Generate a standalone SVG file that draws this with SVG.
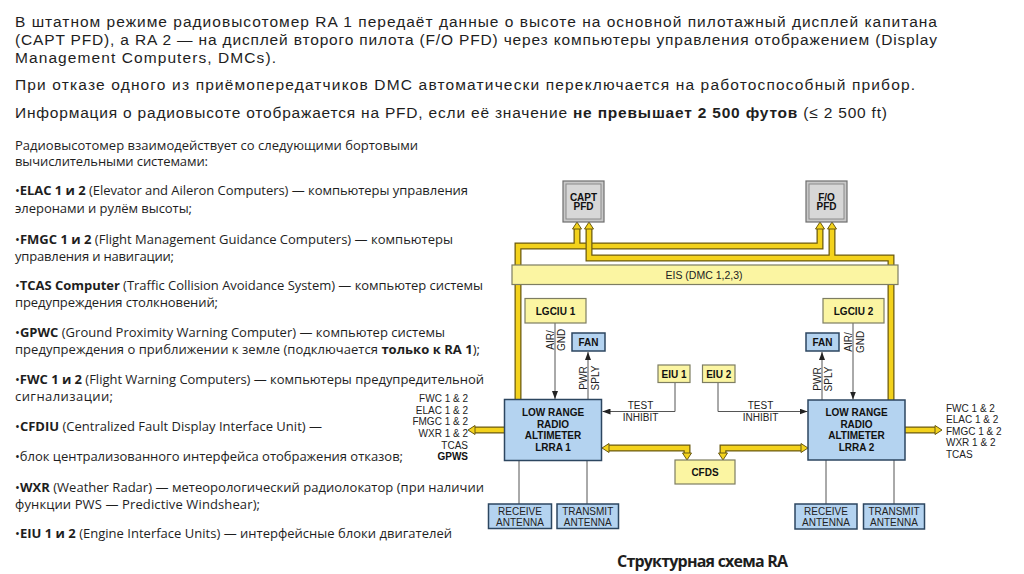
<svg xmlns="http://www.w3.org/2000/svg" width="1024" height="574" viewBox="0 0 1024 574">
<style>
.body{font-family:"Open Sans","Noto Sans","Liberation Sans",sans-serif;fill:#1e1e1e}
.top{font-family:"Liberation Sans",Arial,sans-serif;font-size:15.5px;fill:#1e1e1e}
.col{font-size:13px}
.b{font-weight:bold}
.d{font-family:"Liberation Sans",Arial,sans-serif;font-size:10px;fill:#222}
.db{font-family:"Liberation Sans",Arial,sans-serif;font-size:10px;font-weight:bold;fill:#111}
.bo{stroke:#6b5a10;stroke-width:7;fill:none}
.bi{stroke:#f3d21c;stroke-width:4.5;fill:none}
.ya{fill:#f3d21c;stroke:#6b5a10;stroke-width:1}
.ln{stroke:#555;stroke-width:1;fill:none}
.by{fill:#fbf5a2;stroke:#7d7d62;stroke-width:1.2}
.bb{fill:#b4d3f0;stroke:#2c4660;stroke-width:1.5}
</style>
<defs>
<marker id="ah" markerUnits="userSpaceOnUse" markerWidth="8" markerHeight="6" refX="8" refY="3" orient="auto">
<path d="M0,0 L8,3 L0,6 z" fill="#222"/>
</marker>
</defs>
<rect width="1024" height="574" fill="#ffffff"/>

<g id="text-top" class="top">
<text x="15" y="27" textLength="922">В штатном режиме радиовысотомер RA 1 передаёт данные о высоте на основной пилотажный дисплей капитана</text>
<text x="15" y="45" textLength="922">(CAPT PFD), а RA 2 — на дисплей второго пилота (F/O PFD) через компьютеры управления отображением (Display</text>
<text x="15" y="63" textLength="261">Management Computers, DMCs).</text>
<text x="15" y="90" textLength="900">При отказе одного из приёмопередатчиков DMC автоматически переключается на работоспособный прибор.</text>
<text x="15" y="118" textLength="872">Информация о радиовысоте отображается на PFD, если её значение <tspan class="b">не превышает 2 500 футов</tspan> (≤ 2 500 ft)</text>
</g>

<g id="text-list" class="body col">
<text x="15" y="150" textLength="403">Радиовысотомер взаимодействует со следующими бортовыми</text>
<text x="15" y="166" textLength="193">вычислительными системами:</text>
<text x="15" y="195" textLength="453">•<tspan class="b">ELAC 1 и 2</tspan> (Elevator and Aileron Computers) — компьютеры управления</text>
<text x="15" y="213" textLength="177">элеронами и рулём высоты;</text>
<text x="15" y="244" textLength="438">•<tspan class="b">FMGC 1 и 2</tspan> (Flight Management Guidance Computers) — компьютеры</text>
<text x="15" y="261" textLength="159">управления и навигации;</text>
<text x="15" y="290" textLength="468">•<tspan class="b">TCAS Computer</tspan> (Traffic Collision Avoidance System) — компьютер системы</text>
<text x="15" y="307" textLength="203">предупреждения столкновений;</text>
<text x="15" y="337" textLength="430">•<tspan class="b">GPWC</tspan> (Ground Proximity Warning Computer) — компьютер системы</text>
<text x="15" y="354" textLength="465">предупреждения о приближении к земле (подключается <tspan class="b">только к RA 1</tspan>);</text>
<text x="15" y="384" textLength="469">•<tspan class="b">FWC 1 и 2</tspan> (Flight Warning Computers) — компьютеры предупредительной</text>
<text x="15" y="401" textLength="98">сигнализации;</text>
<text x="15" y="431" textLength="307">•<tspan class="b">CFDIU</tspan> (Centralized Fault Display Interface Unit) —</text>
<text x="15" y="461" textLength="388">•блок централизованного интерфейса отображения отказов;</text>
<text x="15" y="492" textLength="469">•<tspan class="b">WXR</tspan> (Weather Radar) — метеорологический радиолокатор (при наличии</text>
<text x="15" y="509" textLength="245">функции PWS — Predictive Windshear);</text>
<text x="15" y="538" textLength="437">•<tspan class="b">EIU 1 и 2</tspan> (Engine Interface Units) — интерфейсные блоки двигателей</text>
</g>

<g id="connectors">
<path class="bo" d="M518,400 V246 H820 V228 M577,246 V228"/>
<path class="bi" d="M518,400 V246 H820 V228 M577,246 V228"/>
<polygon class="ya" points="572.5,229 577,222 581.5,229"/>
<polygon class="ya" points="815.5,229 820,222 824.5,229"/>
<path class="bo" d="M891,400 V258 H589 V228 M832,258 V228"/>
<path class="bi" d="M891,400 V258 H589 V228 M832,258 V228"/>
<polygon class="ya" points="584.5,229 589,222 593.5,229"/>
<polygon class="ya" points="827.5,229 832,222 836.5,229"/>
<path class="bo" d="M609,448 H687 V453 M801,448 H723 V453"/>
<path class="bi" d="M609,448 H687 V453 M801,448 H723 V453"/>
<polygon class="ya" points="602,448 609,443.5 609,452.5"/>
<polygon class="ya" points="682.5,453 687,460 691.5,453"/>
<polygon class="ya" points="808,448 801,443.5 801,452.5"/>
<polygon class="ya" points="718.5,453 723,460 727.5,453"/>
<path class="bo" d="M504,430 H475 M905,430 H935"/>
<path class="bi" d="M504,430 H475 M905,430 H935"/>
<polygon class="ya" points="468,430 475,425.5 475,434.5"/>
<polygon class="ya" points="942,430 935,425.5 935,434.5"/>
<path class="ln" d="M555,323 V399" marker-end="url(#ah)"/>
<path class="ln" d="M588,399 V352" marker-end="url(#ah)"/>
<path class="ln" d="M853,323 V399.5" marker-end="url(#ah)"/>
<path class="ln" d="M822,400 V352" marker-end="url(#ah)"/>
<path class="ln" d="M675,382 V411.5 H602.5" marker-end="url(#ah)"/>
<path class="ln" d="M718,382 V411.5 H807.5" marker-end="url(#ah)"/>
<path class="ln" d="M519,461 V504 M587,461 V504 M826,460 V504 M894,460 V504"/>
<text class="d" transform="translate(553.5,340) rotate(-90)" text-anchor="middle">AIR/</text>
<text class="d" transform="translate(565,340) rotate(-90)" text-anchor="middle">GND</text>
<text class="d" transform="translate(586.5,378) rotate(-90)" text-anchor="middle">PWR</text>
<text class="d" transform="translate(598.5,378) rotate(-90)" text-anchor="middle">SPLY</text>
<text class="d" transform="translate(820.5,379) rotate(-90)" text-anchor="middle">PWR</text>
<text class="d" transform="translate(832,379) rotate(-90)" text-anchor="middle">SPLY</text>
<text class="d" transform="translate(852,342) rotate(-90)" text-anchor="middle">AIR/</text>
<text class="d" transform="translate(863.5,342) rotate(-90)" text-anchor="middle">GND</text>
<text class="d" x="640.5" y="409" text-anchor="middle">TEST</text>
<text class="d" x="640.5" y="420.5" text-anchor="middle">INHIBIT</text>
<text class="d" x="760.5" y="409" text-anchor="middle">TEST</text>
<text class="d" x="760.5" y="420.5" text-anchor="middle">INHIBIT</text>
<g text-anchor="end">
<text class="d" x="468" y="402">FWC 1 &amp; 2</text>
<text class="d" x="468" y="413.5">ELAC 1 &amp; 2</text>
<text class="d" x="468" y="425">FMGC 1 &amp; 2</text>
<text class="d" x="468" y="436.5">WXR 1 &amp; 2</text>
<text class="d" x="468" y="448.5">TCAS</text>
<text class="db" x="468" y="460">GPWS</text>
</g>
<text class="d" x="946" y="412">FWC 1 &amp; 2</text>
<text class="d" x="946" y="423">ELAC 1 &amp; 2</text>
<text class="d" x="946" y="434.5">FMGC 1 &amp; 2</text>
<text class="d" x="946" y="446">WXR 1 &amp; 2</text>
<text class="d" x="946" y="457.5">TCAS</text>
</g>

<g id="capt-pfd">
<rect x="563" y="181" width="41" height="41" fill="#c8c8c8" stroke="#6e6e6e" stroke-width="1.2"/>
<rect x="566" y="184" width="35" height="35" fill="#d7d7d7" stroke="#8a8a8a" stroke-width="1"/>
<text class="db" x="583.5" y="200.5" text-anchor="middle">CAPT</text>
<text class="db" x="583.5" y="209.5" text-anchor="middle">PFD</text>
</g>
<g id="fo-pfd">
<rect x="806" y="181" width="41" height="41" fill="#c8c8c8" stroke="#6e6e6e" stroke-width="1.2"/>
<rect x="809" y="184" width="35" height="35" fill="#d7d7d7" stroke="#8a8a8a" stroke-width="1"/>
<text class="db" x="826.5" y="200.5" text-anchor="middle">F/O</text>
<text class="db" x="826.5" y="209.5" text-anchor="middle">PFD</text>
</g>
<g id="eis">
<rect class="by" x="512" y="265" width="386" height="19.5"/>
<text class="d" x="704" y="278.5" text-anchor="middle" style="font-size:10.5px">EIS (DMC 1,2,3)</text>
</g>
<g id="lgciu1">
<rect class="by" x="525" y="298.5" width="61" height="24.5"/>
<text class="db" x="555.5" y="314.5" text-anchor="middle">LGCIU 1</text>
</g>
<g id="lgciu2">
<rect class="by" x="823" y="298.5" width="61" height="24.5"/>
<text class="db" x="853.5" y="314.5" text-anchor="middle">LGCIU 2</text>
</g>
<g id="fan1">
<rect class="bb" x="572" y="333" width="33" height="18"/>
<text class="db" x="588.5" y="345.5" text-anchor="middle">FAN</text>
</g>
<g id="fan2">
<rect class="bb" x="806" y="333" width="33" height="18"/>
<text class="db" x="822.5" y="345.5" text-anchor="middle">FAN</text>
</g>
<g id="eiu1">
<rect class="by" x="658" y="365" width="32" height="17.5"/>
<text class="db" x="674" y="377.5" text-anchor="middle">EIU 1</text>
</g>
<g id="eiu2">
<rect class="by" x="702.5" y="365" width="32.5" height="17.5"/>
<text class="db" x="718.7" y="377.5" text-anchor="middle">EIU 2</text>
</g>
<g id="lrra1">
<rect class="bb" x="504.5" y="399.5" width="97" height="61"/>
<text class="db" x="553" y="416" text-anchor="middle">LOW RANGE</text>
<text class="db" x="553" y="427.5" text-anchor="middle">RADIO</text>
<text class="db" x="553" y="439" text-anchor="middle">ALTIMETER</text>
<text class="db" x="553" y="450.5" text-anchor="middle">LRRA 1</text>
</g>
<g id="lrra2">
<rect class="bb" x="808" y="400" width="97" height="60"/>
<text class="db" x="856.5" y="416" text-anchor="middle">LOW RANGE</text>
<text class="db" x="856.5" y="427.5" text-anchor="middle">RADIO</text>
<text class="db" x="856.5" y="439" text-anchor="middle">ALTIMETER</text>
<text class="db" x="856.5" y="450.5" text-anchor="middle">LRRA 2</text>
</g>
<g id="cfds">
<rect class="by" x="675" y="460" width="60" height="24"/>
<text class="db" x="705" y="475.5" text-anchor="middle">CFDS</text>
</g>
<g id="rx1">
<rect class="bb" x="488.5" y="504" width="63" height="24.5"/>
<text class="d" x="520" y="514.5" text-anchor="middle">RECEIVE</text>
<text class="d" x="520" y="525.5" text-anchor="middle">ANTENNA</text>
</g>
<g id="tx1">
<rect class="bb" x="557" y="504" width="61.5" height="24.5"/>
<text class="d" x="587.7" y="514.5" text-anchor="middle">TRANSMIT</text>
<text class="d" x="587.7" y="525.5" text-anchor="middle">ANTENNA</text>
</g>
<g id="rx2">
<rect class="bb" x="795" y="504" width="62" height="25"/>
<text class="d" x="826" y="514.5" text-anchor="middle">RECEIVE</text>
<text class="d" x="826" y="525.5" text-anchor="middle">ANTENNA</text>
</g>
<g id="tx2">
<rect class="bb" x="863.5" y="504" width="61" height="25"/>
<text class="d" x="894" y="514.5" text-anchor="middle">TRANSMIT</text>
<text class="d" x="894" y="525.5" text-anchor="middle">ANTENNA</text>
</g>
<text class="body b" x="702.5" y="567" text-anchor="middle" style="font-size:16px" textLength="171">Структурная схема RA</text>
</svg>
